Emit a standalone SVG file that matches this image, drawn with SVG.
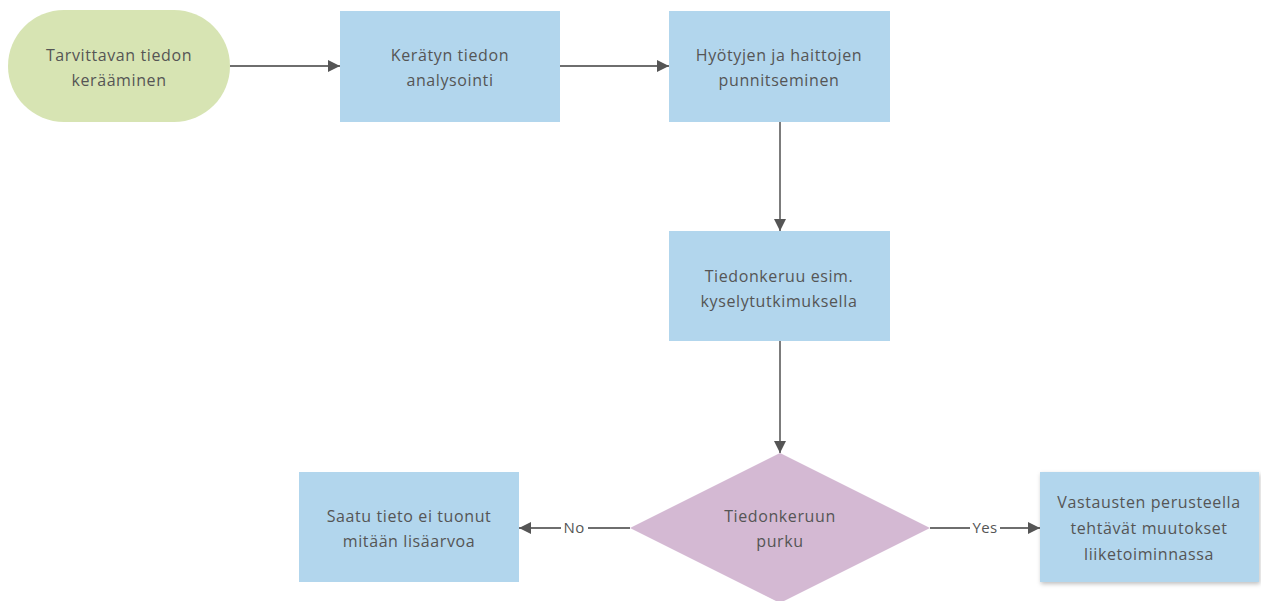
<svg xmlns="http://www.w3.org/2000/svg" width="1261" height="601" viewBox="0 0 1261 601">
  <style>
    .box { fill: #b2d6ed; }
    .term { fill: #d7e4b3; }
    .dec { fill: #d4b9d3; }
    .lbl { font-family: "Open Sans", "Liberation Sans", sans-serif; font-size: 16px; letter-spacing: 0.6px; fill: #555555; text-anchor: middle; }
    .edge { stroke: #6e6e6e; stroke-width: 1.8; fill: none; }
    .elbl { font-family: "Open Sans", "Liberation Sans", sans-serif; font-size: 15px; letter-spacing: 0.4px; fill: #555555; text-anchor: middle; }
  </style>
  <defs>
    <marker id="arrow" viewBox="0 0 10 10" refX="10" refY="5" markerWidth="12" markerHeight="12" markerUnits="userSpaceOnUse" orient="auto">
      <path d="M0,0 L10,5 L0,10 z" fill="#555555"/>
    </marker>
    <filter id="shadow" x="-10%" y="-10%" width="125%" height="130%">
      <feDropShadow dx="1" dy="2" stdDeviation="2" flood-color="#000" flood-opacity="0.25"/>
    </filter>
  </defs>
  <rect width="1261" height="601" fill="#ffffff"/>

  <g id="connectors">
    <line class="edge" x1="230" y1="66" x2="340" y2="66" marker-end="url(#arrow)"/>
    <line class="edge" x1="560" y1="66" x2="669" y2="66" marker-end="url(#arrow)"/>
    <line class="edge" x1="780" y1="122" x2="780" y2="231" marker-end="url(#arrow)"/>
    <line class="edge" x1="780" y1="341" x2="780" y2="453" marker-end="url(#arrow)"/>
    <line class="edge" x1="630" y1="528" x2="588" y2="528"/>
    <line class="edge" x1="561" y1="528" x2="519" y2="528" marker-end="url(#arrow)"/>
    <text class="elbl" x="574" y="533">No</text>
    <line class="edge" x1="930" y1="528" x2="970" y2="528"/>
    <line class="edge" x1="1000" y1="528" x2="1040" y2="528" marker-end="url(#arrow)"/>
    <text class="elbl" x="985" y="533">Yes</text>
  </g>

  <g id="node-start">
    <rect class="term" x="8" y="10" width="222" height="112" rx="56" ry="56"/>
    <text class="lbl" x="119" y="61">Tarvittavan tiedon</text>
    <text class="lbl" x="119" y="86">kerääminen</text>
  </g>

  <g id="node-analyze">
    <rect class="box" x="340" y="11" width="220" height="111"/>
    <text class="lbl" x="450" y="61">Kerätyn tiedon</text>
    <text class="lbl" x="450" y="86">analysointi</text>
  </g>

  <g id="node-weigh">
    <rect class="box" x="669" y="11" width="221" height="111"/>
    <text class="lbl" x="779" y="61">Hyötyjen ja haittojen</text>
    <text class="lbl" x="779" y="86">punnitseminen</text>
  </g>

  <g id="node-collect">
    <rect class="box" x="669" y="231" width="221" height="110"/>
    <text class="lbl" x="779" y="282">Tiedonkeruu esim.</text>
    <text class="lbl" x="779" y="307">kyselytutkimuksella</text>
  </g>

  <g id="node-decision">
    <polygon class="dec" points="780,453 930,528 780,603 630,528"/>
    <text class="lbl" x="780" y="522">Tiedonkeruun</text>
    <text class="lbl" x="780" y="547">purku</text>
  </g>

  <g id="node-no">
    <rect class="box" x="299" y="472" width="220" height="110"/>
    <text class="lbl" x="409" y="522">Saatu tieto ei tuonut</text>
    <text class="lbl" x="409" y="547">mitään lisäarvoa</text>
  </g>

  <g id="node-yes">
    <rect class="box" x="1040" y="472" width="219" height="110" filter="url(#shadow)"/>
    <text class="lbl" x="1149" y="508">Vastausten perusteella</text>
    <text class="lbl" x="1149" y="534">tehtävät muutokset</text>
    <text class="lbl" x="1149" y="560">liiketoiminnassa</text>
  </g>
</svg>
